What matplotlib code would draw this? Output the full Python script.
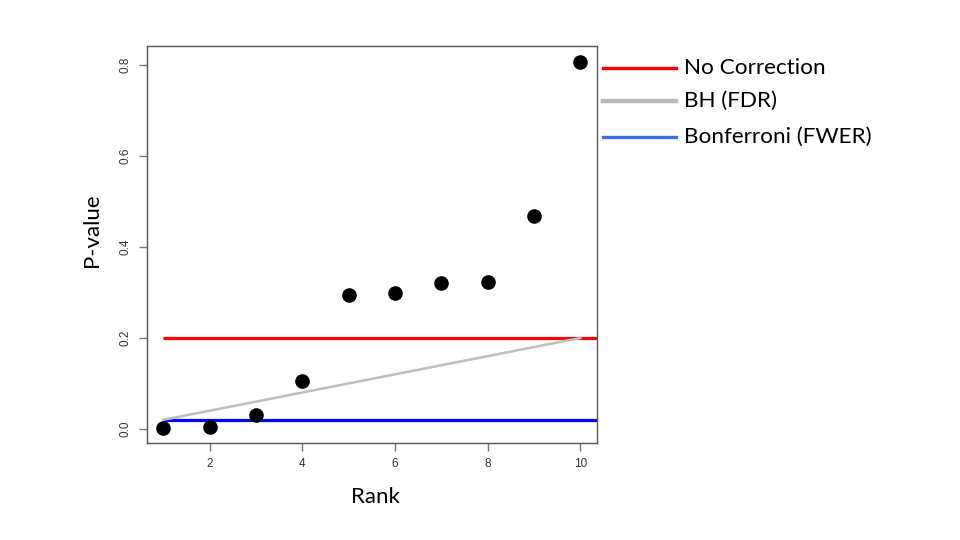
import matplotlib
matplotlib.use("Agg")
import matplotlib.pyplot as plt
from matplotlib.lines import Line2D

rank = [1, 2, 3, 4, 5, 6, 7, 8, 9, 10]
pvalue = [0.001, 0.005, 0.031, 0.106, 0.294, 0.299, 0.321, 0.323, 0.468, 0.806]
alpha = 0.2
bonf = 0.02
bh_x = [1, 10]
bh_y = [0.02, 0.2]
xticks = [2, 4, 6, 8, 10]
yticks = [0.0, 0.2, 0.4, 0.6, 0.8]
legend_labels = ["No Correction", "BH (FDR)", "Bonferroni (FWER)"]

fig = plt.figure(figsize=(9.6, 5.4), dpi=100)
ax = fig.add_axes([146.7/960, 1-443/540, (597-146.7)/960, (443-46)/540])

ax.plot([1, 11], [alpha, alpha], color="#FF0000", lw=2.3, solid_capstyle="butt", zorder=2)
ax.plot([1, 11], [bonf, bonf], color="#0000FF", lw=2.3, solid_capstyle="butt", zorder=2)
ax.plot(bh_x, bh_y, color="#BEBEBE", lw=1.8, zorder=3)
ax.plot(rank, pvalue, "o", color="black", markersize=9.5, zorder=4)

ax.set_xlim(0.64, 10.36)
ax.set_ylim(-0.031, 0.842)
ax.set_xticks(xticks)
ax.set_xticklabels([str(v) for v in xticks])
ax.set_yticks(yticks)
ax.set_yticklabels([f"{v:.1f}" for v in yticks], rotation=90, va="center")
for s in ax.spines.values():
    s.set_color("#555555")
    s.set_linewidth(1.0)
ax.tick_params(direction="out", length=6, width=1, color="#777777",
               labelsize=8.5, labelcolor="#333333", pad=5)
for t in ax.get_xticklabels() + ax.get_yticklabels():
    t.set_family(["Liberation Sans", "DejaVu Sans"])

fig.text(92/960, 1-230/540, "P-value", rotation=90, ha="center", va="center",
         fontsize=16, family=["Lato", "DejaVu Sans"])
fig.text(375/960, 1-497/540, "Rank", ha="center", va="center",
         fontsize=16, family=["Lato", "DejaVu Sans"])

leg_colors = ["#FF0000", "#BBBBBB", "#3F6FE8"]
leg_widths = [2.4, 3.2, 2.4]
leg_y = [68, 101, 137]
for lab, c, w, y in zip(legend_labels, leg_colors, leg_widths, leg_y):
    fig.add_artist(Line2D([603/960, 676/960], [1-y/540, 1-y/540], color=c, lw=w,
                          transform=fig.transFigure))
    fig.text(684/960, 1-y/540, lab, ha="left", va="center", fontsize=16.2,
             family=["Lato", "DejaVu Sans"])

fig.savefig("out.png", dpi=100)
